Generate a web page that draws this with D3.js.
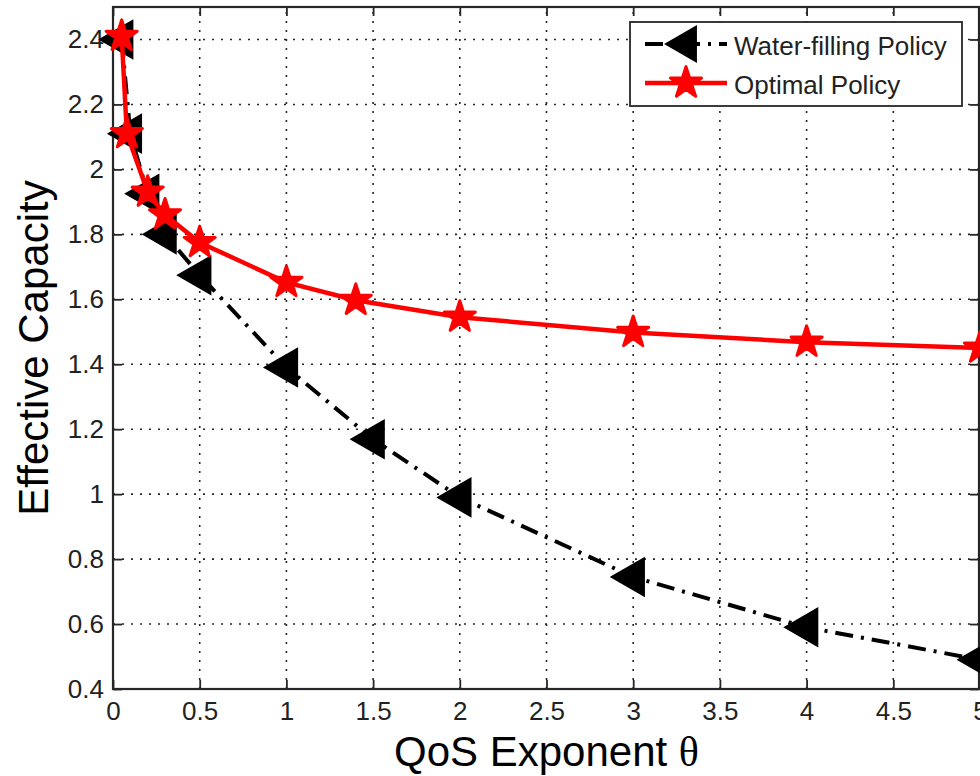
<!DOCTYPE html>
<html>
<head>
<meta charset="utf-8">
<script src="https://cdn.jsdelivr.net/npm/d3@7"></script>
<style>
  body { margin: 0; background: white; }
  svg { display: block; }
</style>
</head>
<body>
<script>
// data
const thetaWF = [0.05, 0.1, 0.2, 0.3, 0.5, 1, 1.5, 2, 3, 4, 5];
const capWF = [2.40, 2.11, 1.925, 1.80, 1.674, 1.39, 1.169, 0.99, 0.745, 0.59, 0.49];
const thetaOpt = [0.05, 0.08, 0.2, 0.3, 0.5, 1, 1.4, 2, 3, 4, 5];
const capOpt = [2.41, 2.11, 1.93, 1.86, 1.775, 1.652, 1.597, 1.545, 1.498, 1.468, 1.45];
const xTicks = [0, 0.5, 1, 1.5, 2, 2.5, 3, 3.5, 4, 4.5, 5];
const yTicks = [0.4, 0.6, 0.8, 1, 1.2, 1.4, 1.6, 1.8, 2, 2.2, 2.4];
const seriesNames = ["Water-filling Policy", "Optimal Policy"];

const width = 980, height = 776;
const plotLeft = 113, plotRight = 980, plotTop = 7, plotBottom = 689;
const axisColor = "#262626";
const font = "'Liberation Sans', Arial, sans-serif";

const svg = d3.select("body")
    .append("svg")
    .attr("width", width)
    .attr("height", height);

const x = d3.scaleLinear().domain([0, 5]).range([plotLeft, plotRight]);
const y = d3.scaleLinear().domain([0.4, 2.5]).range([plotBottom, plotTop]);

// dotted grid
const grid = svg.append("g")
    .attr("stroke", axisColor)
    .attr("stroke-width", 1.6)
    .attr("stroke-dasharray", "2,7");

grid.selectAll(".gx")
    .data(xTicks.slice(1))
    .join("line")
    .attr("x1", d => x(d))
    .attr("x2", d => x(d))
    .attr("y1", plotBottom)
    .attr("y2", plotTop);

grid.selectAll(".gy")
    .data(yTicks.slice(1))
    .join("line")
    .attr("x1", plotLeft)
    .attr("x2", plotRight)
    .attr("y1", d => y(d))
    .attr("y2", d => y(d));

// axes, ticks pointing inside like matlab
function styleAxis(g) {
    g.select(".domain").remove();
    g.selectAll(".tick line").attr("stroke", axisColor).attr("stroke-width", 1.8);
    g.selectAll(".tick text")
        .attr("fill", "#222")
        .attr("font-size", "26px")
        .attr("font-family", font);
}

svg.append("g")
    .attr("transform", `translate(0,${plotBottom})`)
    .call(d3.axisBottom(x).tickValues(xTicks).tickSize(-9).tickSizeOuter(0).tickPadding(13).tickFormat(d => String(d)))
    .call(styleAxis);

svg.append("g")
    .attr("transform", `translate(${plotLeft},0)`)
    .call(d3.axisLeft(y).tickValues(yTicks).tickSize(-9).tickSizeOuter(0).tickPadding(9).tickFormat(d => String(d)))
    .call(styleAxis);

svg.append("g")
    .attr("transform", `translate(0,${plotTop})`)
    .call(d3.axisTop(x).tickValues(xTicks).tickSize(-9).tickSizeOuter(0).tickFormat(""))
    .call(styleAxis);

svg.append("g")
    .attr("transform", `translate(${plotRight - 1},0)`)
    .call(d3.axisRight(y).tickValues(yTicks).tickSize(-9).tickSizeOuter(0).tickFormat(""))
    .call(styleAxis);

// box
svg.append("rect")
    .attr("x", plotLeft)
    .attr("y", plotTop)
    .attr("width", plotRight - plotLeft - 1)
    .attr("height", plotBottom - plotTop)
    .attr("fill", "none")
    .attr("stroke", axisColor)
    .attr("stroke-width", 2.2);

const line = d3.line().x(d => x(d[0])).y(d => y(d[1]));
const wf = thetaWF.map((t, i) => [t, capWF[i]]);
const opt = thetaOpt.map((t, i) => [t, capOpt[i]]);

const triangle = d3.symbol().type(d3.symbolTriangle).size(625);
const star = d3.symbol().type(d3.symbolStar).size(300);

// water-filling: dash-dot black with left triangles
svg.append("path")
    .datum(wf)
    .attr("d", line)
    .attr("fill", "none")
    .attr("stroke", "black")
    .attr("stroke-width", 4)
    .attr("stroke-dasharray", "18,8,3,8");

svg.selectAll(".tri")
    .data(wf)
    .join("path")
    .attr("d", triangle)
    .attr("transform", d => `translate(${x(d[0])},${y(d[1])}) rotate(-90)`)
    .attr("fill", "black")
    .attr("stroke", "black")
    .attr("stroke-width", 1.5);

// optimal: solid red with stars
svg.append("path")
    .datum(opt)
    .attr("d", line)
    .attr("fill", "none")
    .attr("stroke", "#ff0000")
    .attr("stroke-width", 4.5);

svg.selectAll(".star")
    .data(opt)
    .join("path")
    .attr("d", star)
    .attr("transform", d => `translate(${x(d[0])},${y(d[1])})`)
    .attr("fill", "#ff0000")
    .attr("stroke", "#ff0000")
    .attr("stroke-width", 3)
    .attr("stroke-linejoin", "round");

// axis titles
svg.append("text")
    .attr("x", (plotLeft + plotRight) / 2)
    .attr("y", 766)
    .attr("text-anchor", "middle")
    .attr("font-size", "42px")
    .attr("font-family", font)
    .attr("fill", "black")
    .text("QoS Exponent ")
    .append("tspan")
    .attr("font-family", "'Liberation Serif', 'DejaVu Serif', serif")
    .text("θ");

svg.append("text")
    .attr("transform", `translate(48,${(plotTop + plotBottom) / 2}) rotate(-90)`)
    .attr("text-anchor", "middle")
    .attr("font-size", "42px")
    .attr("font-family", font)
    .attr("fill", "black")
    .text("Effective Capacity");

// legend
const legend = svg.append("g");
legend.append("rect")
    .attr("x", 630)
    .attr("y", 22)
    .attr("width", 332)
    .attr("height", 84)
    .attr("fill", "white")
    .attr("stroke", axisColor)
    .attr("stroke-width", 1.8);

const rows = [44, 83];
legend.append("line")
    .attr("x1", 645).attr("x2", 727)
    .attr("y1", rows[0]).attr("y2", rows[0])
    .attr("stroke", "black")
    .attr("stroke-width", 4)
    .attr("stroke-dasharray", "18,8,3,8");
legend.append("path")
    .attr("d", triangle)
    .attr("transform", `translate(686,${rows[0]}) rotate(-90)`)
    .attr("fill", "black");

legend.append("line")
    .attr("x1", 645).attr("x2", 727)
    .attr("y1", rows[1]).attr("y2", rows[1])
    .attr("stroke", "#ff0000")
    .attr("stroke-width", 4.5);
legend.append("path")
    .attr("d", star)
    .attr("transform", `translate(686,${rows[1]})`)
    .attr("fill", "#ff0000")
    .attr("stroke", "#ff0000")
    .attr("stroke-width", 3)
    .attr("stroke-linejoin", "round");

legend.selectAll(".ltext")
    .data(seriesNames)
    .join("text")
    .attr("x", 734)
    .attr("y", (d, i) => rows[i] + 11)
    .attr("font-size", "26px")
    .attr("font-family", font)
    .attr("fill", "#222")
    .text(d => d);
</script>
</body>
</html>
